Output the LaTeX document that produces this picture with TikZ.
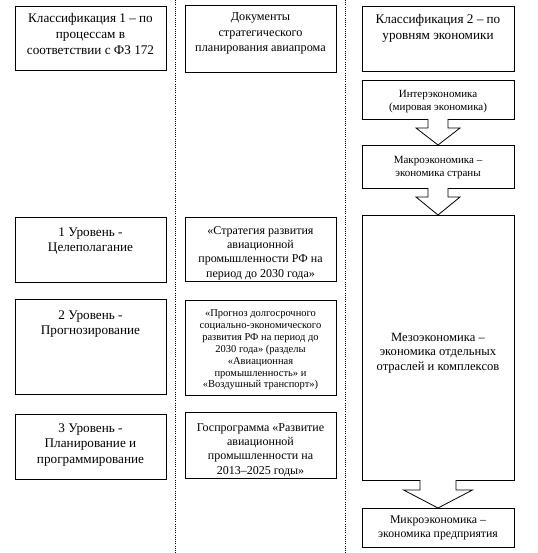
\documentclass[tikz,border=0pt]{standalone}
\usepackage{fontspec}
\setmainfont{Liberation Serif}
\usetikzlibrary{calc}
\newcommand\szL{\fontsize{13.2}{15.8}\selectfont}
\newcommand\szH{\fontsize{12.2}{15.5}\selectfont}
\newcommand\szM{\fontsize{12}{14.4}\selectfont}
\newcommand\szP{\fontsize{10.5}{11.9}\selectfont}
\newcommand\szS{\fontsize{11}{13}\selectfont}
\newcommand\szZ{\fontsize{12.6}{14.3}\selectfont}
\newcommand\szK{\fontsize{11.8}{13.3}\selectfont}
\newcommand\topbox[4]{\parbox[b][#2][t]{#1}{\centering\rule{0pt}{#3}#4}}
\newcommand\midbox[3]{\parbox[b][#2][c]{#1}{\centering #3}}
\begin{document}
\begin{tikzpicture}[x=1pt,y=-1pt,
  box/.style={draw, line width=0.8pt, inner sep=0pt, outer sep=0pt, anchor=north west, fill=white},
  sep/.style={line width=0.8pt, dash pattern=on 1pt off 1.2pt},
  barrow/.style={draw, line width=0.8pt, fill=white, line join=miter}]
\useasboundingbox (0,0) rectangle (537,553);
% separators
\coordinate (s1t) at (175,0); \coordinate (s1b) at (175,553);
\coordinate (s2t) at (345,0); \coordinate (s2b) at (345,553);
\draw[sep] (s1t) -- (s1b);
\draw[sep] (s2t) -- (s2b);
% column 1
\node[box] (a1) at (15,6) {\topbox{151pt}{64pt}{17pt}{\szL Классификация 1 – по\\процессам в\\соответствии с ФЗ 172}};
\node[box] (a2) at (15,217) {\topbox{151pt}{65pt}{19pt}{\szL 1 Уровень -\\Целеполагание}};
\node[box] (a3) at (15,299) {\topbox{151pt}{95pt}{20pt}{\szL 2 Уровень -\\Прогнозирование}};
\node[box] (a4) at (15,414) {\topbox{151pt}{65pt}{18pt}{\szL 3 Уровень -\\Планирование и\\программирование}};
% column 2
\node[box] (b1) at (185,5) {\topbox{151pt}{67pt}{16pt}{\szH Документы\\стратегического\\планирования авиапрома}};
\node[box] (b2) at (185,217) {\topbox{151pt}{64pt}{17pt}{\szM «Стратегия развития\\авиационной\\промышленности РФ на\\период до 2030 года»}};
\node[box] (b3) at (185,300) {\topbox{151pt}{95pt}{16.5pt}{\szP «Прогноз долгосрочного\\социально-экономического\\развития РФ на период до\\2030 года» (разделы\\«Авиационная\\промышленность» и\\«Воздушный транспорт»)}};
\node[box] (b4) at (185,412) {\topbox{151pt}{66pt}{19pt}{\szM Госпрограмма «Развитие\\авиационной\\промышленности на\\2013–2025 годы»}};
% column 3
\node[box] (c1) at (362,6) {\topbox{152pt}{65pt}{18pt}{\szL Классификация 2 – по\\уровням экономики}};
\node[box] (c2) at (362,80) {\midbox{152pt}{39pt}{\szS\vspace*{5pt}Интерэкономика\\(мировая экономика)}};
\node[box] (c3) at (362,145) {\midbox{152pt}{43pt}{\szS\vspace*{3pt}Макроэкономика –\\экономика страны}};
\node[box] (c4) at (362,215) {\midbox{152pt}{265pt}{\szZ\vspace*{11pt}Мезоэкономика –\\экономика отдельных\\отраслей и комплексов}};
\node[box] (c5) at (362,508) {\midbox{152pt}{39pt}{\szK\vspace*{1pt}Микроэкономика –\\экономика предприятия}};
% block arrows
\draw[barrow] ($(c2.south)+(-10,0)$) |- ($(c2.south)+(-22,9)$) -- (c3.north) -- ($(c2.south)+(22,9)$) -| ($(c2.south)+(10,0)$);
\draw[barrow] ($(c3.south)+(-10,0)$) |- ($(c3.south)+(-22,9)$) -- (c4.north) -- ($(c3.south)+(22,9)$) -| ($(c3.south)+(10,0)$);
\draw[barrow] ($(c4.south)+(-18,0)$) |- ($(c4.south)+(-34.5,10)$) -- (c5.north) -- ($(c4.south)+(34.5,10)$) -| ($(c4.south)+(18,0)$);
\end{tikzpicture}
\end{document}
